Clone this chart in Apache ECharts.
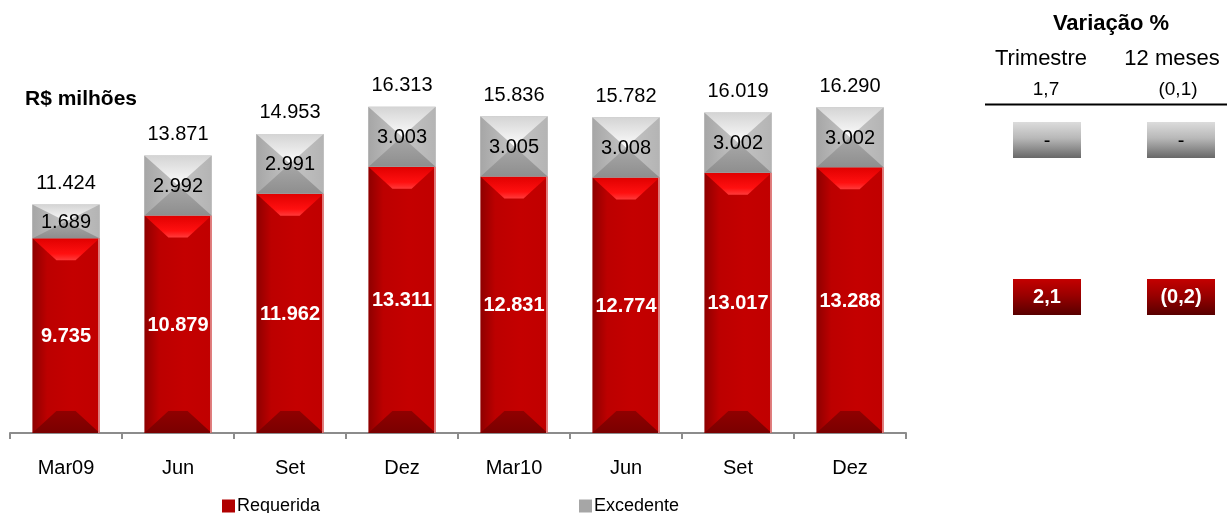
<!DOCTYPE html>
<html>
<head>
<meta charset="utf-8">
<script src="https://cdn.jsdelivr.net/npm/echarts@6/dist/echarts.min.js"></script>
<style>
  html, body { margin: 0; padding: 0; background: #fff; }
  #chart { width: 1227px; height: 513px; }
</style>
</head>
<body>
<div id="chart"></div>
<script>
// Patrimônio de referência: parcela requerida e excedente (R$ milhões)
const categories = ['Mar09', 'Jun', 'Set', 'Dez', 'Mar10', 'Jun', 'Set', 'Dez'];
const requerida  = [9735, 10879, 11962, 13311, 12831, 12774, 13017, 13288];
const excedente  = [1689, 2992, 2991, 3003, 3005, 3008, 3002, 3002];
const totais     = [11424, 13871, 14953, 16313, 15836, 15782, 16019, 16290];

// Quadro de variação percentual
const varColunas   = ['Trimestre', '12 meses'];
const varTotal     = ['1,7', '(0,1)'];
const varExcedente = ['-', '-'];
const varRequerida = ['2,1', '(0,2)'];

const FONT = '"Liberation Sans", Arial, sans-serif';

function fmt(v) {
  return String(v).replace(/\B(?=(\d{3})+(?!\d))/g, '.');
}

const grad = (x, y, x2, y2, stops) => ({
  type: 'linear', x, y, x2, y2,
  colorStops: stops.map(s => ({ offset: s[0], color: s[1] }))
});

// Barra com chanfro: face + trapézios superior/inferior (+ laterais)
function bevelSegment(api, style) {
  const i = api.value(0);
  const lo = api.coord([i, api.value(1)]);
  const hi = api.coord([i, api.value(2)]);
  const w = api.size([1, 0])[0] * 0.6;
  const x0 = lo[0] - w / 2, x1 = lo[0] + w / 2;
  const yT = hi[1], yB = lo[1];
  const h = yB - yT;
  const children = [];
  children.push({ type: 'rect', shape: { x: x0, y: yT, width: w, height: h },
    style: { fill: style.face } });
  let dx, dy;
  if (style.kind === 'x') {
    dx = w / 2; dy = h / 2;
    children.push({ type: 'polygon', shape: { points: [[x0, yT], [x0 + dx, yT + dy], [x0, yB]] }, style: { fill: style.left } });
    children.push({ type: 'polygon', shape: { points: [[x1, yT], [x1 - dx, yT + dy], [x1, yB]] }, style: { fill: style.right } });
  } else {
    dx = Math.min(24, w / 2); dy = Math.min(22, h / 2);
  }
  children.push({ type: 'polygon', shape: { points: [[x0, yT], [x1, yT], [x1 - dx, yT + dy], [x0 + dx, yT + dy]] },
    style: { fill: style.top } });
  children.push({ type: 'polygon', shape: { points: [[x0, yB], [x1, yB], [x1 - dx, yB - dy], [x0 + dx, yB - dy]] },
    style: { fill: style.bottom } });
  if (style.edge) {
    children.push({ type: 'rect', shape: { x: x1 - 1.5, y: yT, width: 1.5, height: h }, style: { fill: style.edge } });
  }
  children.push({ type: 'text', style: {
    text: fmt(api.value(2) - api.value(1)), x: lo[0], y: (yT + yB) / 2 + 1,
    align: 'center', verticalAlign: 'middle', fill: style.text,
    font: (style.bold ? 'bold ' : '') + '20px ' + FONT } });
  return { type: 'group', children };
}

const redStyle = {
  kind: 'bevel',
  face: grad(0, 0, 1, 0, [[0, '#8e0000'], [0.22, '#bc0000'], [0.6, '#c40000'], [1, '#c00000']]),
  top: grad(0, 0, 0, 1, [[0, '#e00000'], [0.7, '#ff1010'], [1, '#ff3a3a']]),
  bottom: grad(0, 0, 0, 1, [[0, '#900000'], [1, '#7a0000']]),
  edge: 'rgba(230,150,150,0.9)',
  text: '#ffffff', bold: true
};
const grayStyle = {
  kind: 'x',
  face: '#b8b8b8',
  left: grad(0, 0, 1, 0, [[0, '#a6a6a6'], [1, '#c4c4c4']]),
  right: grad(0, 0, 1, 0, [[0, '#c4c4c4'], [1, '#b4b4b4']]),
  top: grad(0, 0, 0, 1, [[0, '#d4d4d4'], [0.8, '#f4f4f4'], [1, '#ffffff']]),
  bottom: grad(0, 0, 0, 1, [[0, '#a8a8a8'], [1, '#8e8e8e']]),
  text: '#000000', bold: false
};

const dataReq = requerida.map((v, i) => [i, 0, v]);
const dataExc = excedente.map((v, i) => [i, requerida[i], requerida[i] + v]);
const dataTot = totais.map((v, i) => [i, v]);

// Quadro lateral
const colX = [1047, 1181];
const headX = [1041, 1172];
const subX = [1046, 1178];
const graphics = [
  { type: 'text', left: 25, top: 89, style: { text: 'R$ milhões', font: 'bold 21px ' + FONT, fill: '#000' } },
  { type: 'text', x: 1111, y: 24, style: { text: 'Variação %', align: 'center', verticalAlign: 'middle', font: 'bold 22px ' + FONT, fill: '#000' } },
  { type: 'line', shape: { x1: 985, y1: 104.5, x2: 1227, y2: 104.5 }, style: { stroke: '#000', lineWidth: 2 } }
];
varColunas.forEach((t, k) => {
  graphics.push({ type: 'text', x: headX[k], y: 59, style: { text: t, align: 'center', verticalAlign: 'middle', font: '22px ' + FONT, fill: '#000' } });
  graphics.push({ type: 'text', x: subX[k], y: 90, style: { text: varTotal[k], align: 'center', verticalAlign: 'middle', font: '19px ' + FONT, fill: '#000' } });
  graphics.push({ type: 'rect', shape: { x: colX[k] - 34, y: 122, width: 68, height: 36 },
    style: { fill: grad(0, 0, 0, 1, [[0, '#dcdcdc'], [0.45, '#b8b8b8'], [1, '#686868']]) } });
  graphics.push({ type: 'text', x: colX[k], y: 141, style: { text: varExcedente[k], align: 'center', verticalAlign: 'middle', font: '20px ' + FONT, fill: '#000' } });
  graphics.push({ type: 'rect', shape: { x: colX[k] - 34, y: 279, width: 68, height: 36 },
    style: { fill: grad(0, 0, 0, 1, [[0, '#c40000'], [0.45, '#9a0000'], [1, '#580000']]) } });
  graphics.push({ type: 'text', x: colX[k], y: 297, style: { text: varRequerida[k], align: 'center', verticalAlign: 'middle', font: 'bold 20px ' + FONT, fill: '#fff' } });
});

const legendText = { fontSize: 18, fontFamily: FONT, color: '#000', padding: [0, 0, 0, -3] };

const chart = echarts.init(document.getElementById('chart'), null, { renderer: 'canvas' });
chart.setOption({
  animation: false,
  backgroundColor: '#ffffff',
  grid: { left: 10, right: 321, top: 33, bottom: 80 },
  xAxis: {
    type: 'category', data: categories, boundaryGap: true,
    axisLine: { lineStyle: { color: '#8c8c8c', width: 2 } },
    axisTick: { show: true, length: 6, lineStyle: { color: '#8c8c8c', width: 2 } },
    axisLabel: { color: '#000', fontSize: 20, fontFamily: FONT, margin: 25 }
  },
  yAxis: { type: 'value', min: 0, max: 20000, show: false, splitLine: { show: false } },
  legend: [
    { data: [{ name: 'Requerida', icon: 'rect', itemStyle: { color: '#b00000' } }], left: 217, top: 492,
      itemWidth: 13, itemHeight: 13, itemGap: 2, textStyle: legendText },
    { data: [{ name: 'Excedente', icon: 'rect', itemStyle: { color: '#a6a6a6' } }], left: 574, top: 492,
      itemWidth: 13, itemHeight: 13, itemGap: 2, textStyle: legendText }
  ],
  graphic: graphics,
  series: [
    { name: 'Requerida', type: 'custom', data: dataReq, encode: { x: 0, y: [1, 2] },
      itemStyle: { color: '#c00000' },
      renderItem: (p, api) => bevelSegment(api, redStyle) },
    { name: 'Excedente', type: 'custom', data: dataExc, encode: { x: 0, y: [1, 2] },
      itemStyle: { color: '#a6a6a6' },
      renderItem: (p, api) => bevelSegment(api, grayStyle) },
    { name: 'Total', type: 'custom', data: dataTot, encode: { x: 0, y: 1 },
      renderItem: (p, api) => {
        const c = api.coord([api.value(0), api.value(1)]);
        return { type: 'text', style: { text: fmt(api.value(1)), x: c[0], y: c[1] - 21,
          align: 'center', verticalAlign: 'middle', font: '20px ' + FONT, fill: '#000' } };
      } }
  ]
});
</script>
</body>
</html>
